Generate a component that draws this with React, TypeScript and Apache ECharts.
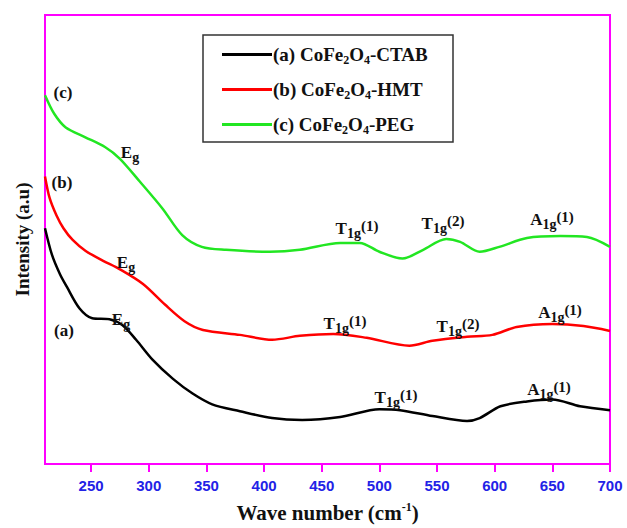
import React, { useEffect, useRef } from "react";
import * as echarts from "echarts";

// Wave number ticks
const xTickValues = [250, 300, 350, 400, 450, 500, 550, 600, 650, 700];

// (a) CoFe2O4-CTAB
const ctabWn = [210, 216, 223, 229, 240, 251, 266, 277, 289, 303, 321, 338, 355, 379, 407, 433, 466, 500, 518, 546, 576, 587, 605, 628, 650, 674, 700];
const ctabI = [241, 214, 194, 181, 159, 149, 148, 142, 127, 107, 87, 72, 61, 54, 47, 45, 48, 56, 55, 49, 44, 47, 59, 64, 66, 59, 55];

// (b) CoFe2O4-HMT
const hmtWn = [210, 214, 220, 226, 234, 245, 260, 275, 295, 314, 331, 347, 379, 407, 431, 460, 489, 526, 546, 576, 598, 619, 650, 677, 700];
const hmtI = [294, 272, 254, 241, 229, 218, 208, 199, 184, 163, 146, 137, 132, 127, 131, 133, 129, 121, 126, 130, 132, 140, 143, 141, 136];

// (c) CoFe2O4-PEG
const pegWn = [210, 218, 228, 245, 262, 275, 292, 312, 329, 346, 367, 405, 431, 466, 483, 500, 520, 538, 558, 570, 587, 604, 628, 657, 680, 700];
const pegI = [377, 358, 344, 334, 324, 312, 289, 261, 234, 222, 219, 217, 219, 226, 226, 217, 210, 219, 230, 227, 217, 222, 231, 233, 232, 222];

const seriesNames = ["(a) CoFe2O4-CTAB", "(b) CoFe2O4-HMT", "(c) CoFe2O4-PEG"];
const seriesColors = ["#000000", "#ff0000", "#22e622"];

const SERIF = "'Liberation Serif', 'Times New Roman', serif";

const pairs = (xs: number[], ys: number[]) => xs.map((x, i) => [x, ys[i]]);

const annRich = {
  b: { fontFamily: SERIF, fontWeight: "bold", fontSize: 17, fill: "#111", color: "#111", verticalAlign: "middle" },
  s: { fontFamily: SERIF, fontWeight: "bold", fontSize: 14, fill: "#111", color: "#111", verticalAlign: "middle", padding: [11, 0, 0, 0] },
  p: { fontFamily: SERIF, fontWeight: "bold", fontSize: 15, fill: "#111", color: "#111", verticalAlign: "middle", padding: [0, 0, 4, 0] },
};

const annText = (x: number, y: number, text: string) => ({
  type: "text",
  x,
  y,
  z: 10,
  style: {
    text,
    rich: annRich,
    align: "center",
    verticalAlign: "middle",
    fill: "#111",
  },
});

const EG = "{b|E}{s|g}";
const T1 = "{b|T}{s|1g}{p|(1)}";
const T2 = "{b|T}{s|1g}{p|(2)}";
const A1 = "{b|A}{s|1g}{p|(1)}";

export default function App() {
  const ref = useRef<HTMLDivElement>(null);

  useEffect(() => {
    const chart = echarts.init(ref.current!, null, { renderer: "svg" });
    const data = [pairs(ctabWn, ctabI), pairs(hmtWn, hmtI), pairs(pegWn, pegI)];
    const option: any = {
      animation: false,
      backgroundColor: "#ffffff",
      grid: {
        left: 45,
        right: 17,
        top: 15,
        bottom: 54,
        show: true,
        borderColor: "#ff00ff",
        borderWidth: 2,
      },
      legend: {
        orient: "vertical",
        left: 222,
        top: 45,
        icon: "rect",
        itemWidth: 50,
        itemHeight: 3,
        itemGap: 14,
        padding: 0,
        data: seriesNames,
        formatter: (name: string) => {
          const m = name.match(/^(\(.\) CoFe)2O4(-.*)$/);
          if (!m) return name;
          return `{n|${m[1]}}{s|2}{n|O}{s|4}{n|${m[2]}}`;
        },
        textStyle: {
          padding: [0, 0, 0, -4],
          rich: {
            n: { fontFamily: SERIF, fontWeight: "bold", fontSize: 19, color: "#111", lineHeight: 20, verticalAlign: "middle" },
            s: { fontFamily: SERIF, fontWeight: "bold", fontSize: 12, color: "#111", verticalAlign: "middle", padding: [11, 0, 0, 0] },
          },
        },
      },
      xAxis: {
        type: "value",
        min: 210,
        max: 700,
        name: "{n|Wave number (cm}{s|-1}{n|)}",
        nameLocation: "middle",
        nameGap: 37,
        nameTextStyle: {
          rich: {
            n: { fontFamily: SERIF, fontWeight: "bold", fontSize: 21, color: "#111", verticalAlign: "middle" },
            s: { fontFamily: SERIF, fontWeight: "bold", fontSize: 12, color: "#111", verticalAlign: "middle", padding: [0, 0, 11, 0] },
          },
        },
        axisLine: { show: true, lineStyle: { color: "#ff00ff", width: 2 } },
        axisTick: {
          show: true,
          customValues: xTickValues,
          length: 8,
          lineStyle: { color: "#ff00ff", width: 2 },
        },
        axisLabel: {
          customValues: xTickValues,
          color: "#2222e6",
          fontFamily: "'Liberation Sans', Arial, sans-serif",
          fontWeight: "bold",
          fontSize: 15,
          margin: 14,
        },
        splitLine: { show: false },
      },
      yAxis: {
        type: "value",
        min: 0,
        max: 459,
        name: "Intensity (a.u)",
        nameLocation: "middle",
        nameGap: 13,
        nameTextStyle: {
          fontFamily: SERIF,
          fontWeight: "bold",
          fontSize: 19,
          color: "#111",
        },
        axisLine: { show: false },
        axisTick: { show: false },
        axisLabel: { show: false },
        splitLine: { show: false },
      },
      series: seriesNames.map((name, i) => ({
        name,
        type: "line",
        data: data[i],
        symbol: "none",
        smooth: 0.3,
        lineStyle: { color: seriesColors[i], width: 2.5 },
        itemStyle: { color: seriesColors[i] },
        z: 3 - i,
      })),
      graphic: [
        {
          type: "rect",
          shape: { x: 203, y: 35, width: 250, height: 107 },
          style: { fill: "none", stroke: "#333", lineWidth: 1.5 },
          z: 5,
        },
        annText(63, 92, "{b|(c)}"),
        annText(62, 182, "{b|(b)}"),
        annText(64, 330, "{b|(a)}"),
        annText(130, 152, EG),
        annText(126, 262, EG),
        annText(121, 319, EG),
        annText(357, 228, T1),
        annText(443, 223, T2),
        annText(552, 219, A1),
        annText(345, 323, T1),
        annText(458, 326, T2),
        annText(560, 312, A1),
        annText(396, 397, T1),
        annText(549, 389, A1),
      ],
    };
    chart.setOption(option);
    return () => chart.dispose();
  }, []);

  return (
    <div
      ref={ref}
      style={{ position: "absolute", left: 0, top: 0, width: 627, height: 528 }}
    />
  );
}
